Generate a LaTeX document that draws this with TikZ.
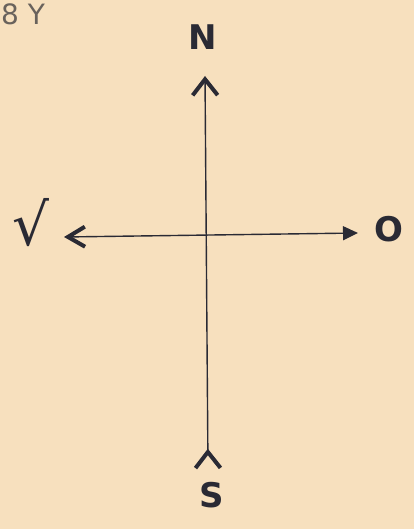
\documentclass[tikz,border=0pt]{standalone}
\usepackage{fontspec}
\setmainfont{DejaVu Sans}
\usetikzlibrary{positioning, arrows.meta}
\definecolor{paper}{RGB}{247,224,190}
\definecolor{ink}{RGB}{42,42,52}
\definecolor{pencil}{RGB}{105,98,92}

\begin{document}
\begin{tikzpicture}[x=1pt, y=-1pt,
  lbl/.style={text=ink, font=\fontsize{34}{34}\selectfont\bfseries, inner sep=0pt},
  axis/.style={draw=ink, line width=1.4pt},
  headfill/.tip={Triangle[length=15pt, width=14pt]}
]
  \clip (0,0) rectangle (414,529);
  \fill[paper] (0,0) rectangle (414,529);

  \coordinate (top) at (205,76);
  \coordinate (bot) at (208,470);
  \coordinate (lft) at (64,237);
  \coordinate (rgt) at (358,233);

  \node[lbl] (north) at (203,37) {N};
  \node[lbl] (south) at (212,495) {S};
  \node[lbl] (east)  at (389,229) {O};
  \node[lbl, font=\fontsize{58}{58}\selectfont] (west) at (31,223) {√};
  \node[text=pencil, font=\fontsize{28}{28}\selectfont, anchor=west, inner sep=0pt] (corner) at (1,14) {8 Y};

  \draw[axis, {Straight Barb[reversed, length=16pt, width=25pt, line width=4pt]}-{Straight Barb[length=16pt, width=25pt, line width=4pt]}] (bot) -- (top);
  \draw[axis, {Straight Barb[length=17pt, width=20pt, line width=4pt]}-{headfill}] (lft) -- (rgt);
\end{tikzpicture}
\end{document}
